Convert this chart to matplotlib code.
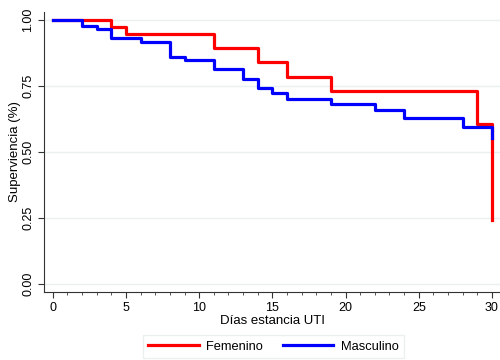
import matplotlib
matplotlib.use("Agg")
import matplotlib.pyplot as plt
from matplotlib.ticker import MultipleLocator

plt.rcParams['font.family'] = ['Liberation Sans', 'DejaVu Sans']

# Kaplan-Meier curves
fem_days = [0, 4, 5, 11, 14, 16, 19, 29, 30]
fem_surv = [1.0, 0.974, 0.947, 0.894, 0.841, 0.783, 0.730, 0.606, 0.242]
masc_days = [0, 2, 3, 4, 6, 8, 9, 11, 13, 14, 15, 16, 19, 22, 24, 28, 30]
masc_surv = [1.0, 0.978, 0.965, 0.931, 0.917, 0.859, 0.847, 0.814, 0.777,
             0.742, 0.723, 0.700, 0.680, 0.658, 0.628, 0.593, 0.551]
y_ticks = [0.0, 0.25, 0.5, 0.75, 1.0]
y_labels = ["0.00", "0.25", "0.50", "0.75", "1.00"]
x_ticks = [0, 5, 10, 15, 20, 25, 30]

fig = plt.figure(figsize=(5, 3.6), dpi=100)
ax = fig.add_axes([0.088, 0.189, 0.912, 0.778])

ax.plot(fem_days, fem_surv, drawstyle='steps-post', color='#ff0000', lw=2.3, label='Femenino')
ax.plot(masc_days, masc_surv, drawstyle='steps-post', color='#0000ff', lw=2.3, label='Masculino')

ax.set_xlim(-0.6, 30.55)
ax.set_ylim(-0.031, 1.03)
ax.set_xticks(x_ticks)
ax.xaxis.set_minor_locator(MultipleLocator(1))
ax.set_yticks(y_ticks)
ax.set_yticklabels(y_labels, rotation=90, va='center')
ax.tick_params(axis='both', which='major', length=4, width=0.8, color='#333333', labelsize=9, pad=3)
ax.tick_params(axis='x', which='minor', length=2.5, width=0.7, color='#555555')
ax.grid(axis='y', color='#eaf0f0', lw=1.0)
ax.set_axisbelow(True)
for s in ['top', 'right']:
    ax.spines[s].set_visible(False)
for s in ['left', 'bottom']:
    ax.spines[s].set_color('#333333')
    ax.spines[s].set_linewidth(0.8)

ax.set_xlabel('Días estancia UTI', fontsize=9.5, labelpad=1)
ax.set_ylabel('Superviencia (%)', fontsize=9.5)
ax.yaxis.set_label_coords(-0.05, 0.5)

fig.legend(loc='center', bbox_to_anchor=(0.547, 0.037), ncol=2, fontsize=9.3,
           handlelength=3.9, columnspacing=1.5, handletextpad=0.6,
           frameon=True, fancybox=False, edgecolor='#e6ecec', borderpad=0.4)

plt.savefig('out.png', dpi=100)
